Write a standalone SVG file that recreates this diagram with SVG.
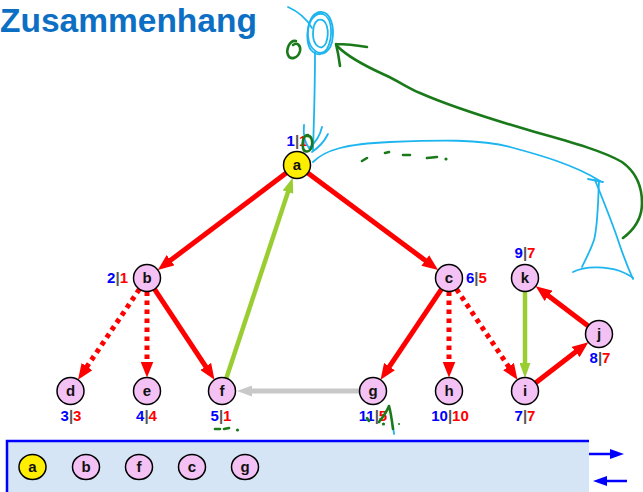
<svg xmlns="http://www.w3.org/2000/svg" width="643" height="492" viewBox="0 0 643 492">
<style>
.node circle, .node ellipse {fill:#f3c1f3; stroke:#000; stroke-width:1.5}
.root circle, .root ellipse {fill:#ffee00}
.nl {font-family:"Liberation Sans", Arial, sans-serif; font-weight:bold; font-size:15px; text-anchor:middle; fill:#111}
.lab {font-family:"Liberation Sans", Arial, sans-serif; font-weight:bold; font-size:15px}
.mid {text-anchor:middle}
.end {text-anchor:end}
.bl {fill:#0000ff}
.rd {fill:#ff0000}
.sp {fill:#555555}
.red {stroke:#ff0000; stroke-width:5; fill:none; marker-end:url(#ar)}
.dot {stroke-dasharray:4.5 4.5}
.grn {stroke:#9acd32; stroke-width:4.5; fill:none; marker-end:url(#ag)}
.gry {stroke:#c8c8c8; stroke-width:5; fill:none; marker-end:url(#agy)}
.blu {stroke:#0000ff; stroke-width:2.5; fill:none}
.cy {stroke:#1cb5f0; stroke-width:1.8; fill:none; stroke-linecap:round; stroke-linejoin:round}
.gr {stroke:#1a7a1a; stroke-width:2.6; fill:none; stroke-linecap:round; stroke-linejoin:round}
</style>
<defs>
<marker id="ar" markerUnits="userSpaceOnUse" markerWidth="16" markerHeight="13" refX="8" refY="6.5" orient="auto"><path d="M0,0 L16,6.5 L0,13 z" fill="#ff0000"/></marker>
<marker id="ag" markerUnits="userSpaceOnUse" markerWidth="15" markerHeight="11" refX="7" refY="5.5" orient="auto"><path d="M0,0 L15,5.5 L0,11 z" fill="#9acd32"/></marker>
<marker id="agy" markerUnits="userSpaceOnUse" markerWidth="15" markerHeight="11" refX="7" refY="5.5" orient="auto"><path d="M0,0 L15,5.5 L0,11 z" fill="#c8c8c8"/></marker>
<marker id="ab" markerUnits="userSpaceOnUse" markerWidth="14" markerHeight="10" refX="2" refY="5" orient="auto"><path d="M0,0 L14,5 L0,10 z" fill="#0000ff"/></marker>
</defs>

<text x="0" y="32" font-family="Liberation Sans, Arial, sans-serif" font-weight="bold" font-size="33.5" fill="#0d6fc4">Zusammenhang</text>

<g id="queue-box">
<rect x="7" y="441" width="582" height="60" fill="#d5e5f5"/>
<path class="blu" d="M7,502 V441 H589"/>
<path class="blu" d="M589,454 H612" marker-end="url(#ab)"/>
<path class="blu" d="M627,481 H605" marker-end="url(#ab)"/>
</g>

<g id="connectors">
<path class="red" d="M286.2,173.1 L164.2,265.1"/>
<path class="red" d="M307.8,173.1 L431.7,265.2"/>
<path class="red dot" d="M139.4,289.2 L82.5,373.2"/>
<path class="red dot" d="M147,291.5 L147,369.5"/>
<path class="red" d="M154.5,289.2 L210.1,373.1"/>
<path class="grn" d="M226.3,378.2 L290.2,185.4"/>
<path class="gry" d="M359.5,391 L245,391"/>
<path class="red" d="M441.5,289.2 L385,373.2"/>
<path class="red dot" d="M449,291.5 L449,369.5"/>
<path class="red dot" d="M456.5,289.2 L513,373.2"/>
<path class="grn" d="M525,291.5 L525,370"/>
<path class="red" d="M535.7,382.8 L582,347.1"/>
<path class="red" d="M588.2,325.9 L542.1,291"/>
</g>

<g id="node-a" class="node root"><circle cx="297" cy="165" r="13.5"/><text class="nl" x="297" y="170">a</text>
<text class="lab mid" x="297" y="146"><tspan class="bl">1</tspan><tspan class="sp">|</tspan><tspan class="rd">1</tspan></text></g>
<g id="node-b" class="node"><circle cx="147" cy="278" r="13.5"/><text class="nl" x="147" y="283">b</text>
<text class="lab end" x="128" y="283"><tspan class="bl">2</tspan><tspan class="sp">|</tspan><tspan class="rd">1</tspan></text></g>
<g id="node-c" class="node"><circle cx="449" cy="278" r="13.5"/><text class="nl" x="449" y="283">c</text>
<text class="lab" x="466" y="283"><tspan class="bl">6</tspan><tspan class="sp">|</tspan><tspan class="rd">5</tspan></text></g>
<g id="node-k" class="node"><circle cx="525" cy="278" r="13.5"/><text class="nl" x="525" y="283">k</text>
<text class="lab mid" x="525" y="258"><tspan class="bl">9</tspan><tspan class="sp">|</tspan><tspan class="rd">7</tspan></text></g>
<g id="node-j" class="node"><circle cx="599" cy="334" r="13.5"/><text class="nl" x="599" y="339">j</text>
<text class="lab mid" x="600" y="363"><tspan class="bl">8</tspan><tspan class="sp">|</tspan><tspan class="rd">7</tspan></text></g>
<g id="node-d" class="node"><circle cx="70.5" cy="391" r="13.5"/><text class="nl" x="70.5" y="396">d</text>
<text class="lab mid" x="71" y="421"><tspan class="bl">3</tspan><tspan class="sp">|</tspan><tspan class="rd">3</tspan></text></g>
<g id="node-e" class="node"><circle cx="147" cy="391" r="13.5"/><text class="nl" x="147" y="396">e</text>
<text class="lab mid" x="146.5" y="421"><tspan class="bl">4</tspan><tspan class="sp">|</tspan><tspan class="rd">4</tspan></text></g>
<g id="node-f" class="node"><circle cx="222" cy="391" r="13.5"/><text class="nl" x="222" y="396">f</text>
<text class="lab mid" x="221" y="421"><tspan class="bl">5</tspan><tspan class="sp">|</tspan><tspan class="rd">1</tspan></text></g>
<g id="node-g" class="node"><circle cx="373" cy="391" r="13.5"/><text class="nl" x="373" y="396">g</text>
<text class="lab mid" x="373" y="421"><tspan class="bl">11</tspan><tspan class="sp">|</tspan><tspan class="rd">5</tspan></text></g>
<g id="node-h" class="node"><circle cx="449" cy="391" r="13.5"/><text class="nl" x="449" y="396">h</text>
<text class="lab mid" x="450" y="421"><tspan class="bl">10</tspan><tspan class="sp">|</tspan><tspan class="rd">10</tspan></text></g>
<g id="node-i" class="node"><circle cx="525" cy="391" r="13.5"/><text class="nl" x="525" y="396">i</text>
<text class="lab mid" x="525" y="421"><tspan class="bl">7</tspan><tspan class="sp">|</tspan><tspan class="rd">7</tspan></text></g>

<g id="q-a" class="node root"><ellipse cx="32.5" cy="467" rx="13.5" ry="12.5"/><text class="nl" x="32.5" y="472" font-size="14">a</text></g>
<g id="q-b" class="node"><ellipse cx="86" cy="467" rx="13.5" ry="12.5"/><text class="nl" x="86" y="472">b</text></g>
<g id="q-f" class="node"><ellipse cx="139" cy="467" rx="13.5" ry="12.5"/><text class="nl" x="139" y="472">f</text></g>
<g id="q-c" class="node"><ellipse cx="192" cy="467" rx="13.5" ry="12.5"/><text class="nl" x="192" y="472">c</text></g>
<g id="q-g" class="node"><ellipse cx="245" cy="467" rx="13.5" ry="12.5"/><text class="nl" x="245" y="472">g</text></g>

<g id="ink-cyan">
<path class="cy" d="M288,7 C297,11 305,16 312,28"/>
<path class="cy" d="M320,12 C331,11 335,28 332,42 C329,54 318,58 311,50 C304,41 307,14 320,12 Z"/>
<path class="cy" d="M323,14 C333,18 333,38 327,49 C321,58 309,50 308,36 C307,24 313,12 323,14"/>
<path class="cy" d="M318,20 C327,17 330,32 326,43 C322,52 313,46 313,34 C313,26 315,22 318,20"/>
<path class="cy" d="M315,52 C315,80 314,120 313,150"/>
<path class="cy" d="M304,125 C303,135 305,143 309,148"/>
<path class="cy" d="M322,127 C320,136 315,143 309,148"/>
<path class="cy" d="M328,134 C324,142 318,148 312,152"/>
<path class="cy" d="M313,162 C325,150 345,144 390,142 C440,140 480,139 510,147 C540,155 575,165 600,181"/>
<path class="cy" d="M588,179 L603,182"/>
<path class="cy" d="M599,181 C598,200 598,225 594,240 C590,252 585,260 582,267"/>
<path class="cy" d="M573,272 C585,266 605,266 620,271 C627,274 631,276 633,278"/>
<path class="cy" d="M595,180 C603,200 612,222 618,240 C624,258 628,268 633,279"/>
<path class="cy" d="M393,426 L394,434"/>
</g>

<g id="ink-green">
<path class="gr" d="M296,41 C289,40 286,50 288,55 C290,60 298,59 300,51 C301,45 297,42 293,45"/>
<path class="gr" d="M367,47 C355,45 345,44 336,44 M336,44 C338,52 339,58 340,66"/>
<path class="gr" d="M337,46 C348,57 365,66 385,75 C400,82 408,88 420,93 C445,104 480,116 535,132 C575,143 605,152 622,162 C636,172 642,185 642,203 C642,218 635,229 623,238"/>
<path class="gr" d="M308,135 C303,135 302,143 303,148 C304,153 310,153 312,146 C313,140 311,135 307,136"/>
<path class="gr" d="M362,161 L367,158 M385,153 L389,152 M403,155 L410,155 M427,158 L437,157 M215,429 L220,429 M224,429 L229,428 M367,418 L369,421"/>
<circle cx="446" cy="159" r="1.6" fill="#1a7a1a"/>
<circle cx="237.5" cy="430" r="1.6" fill="#1a7a1a"/>
<path class="gr" d="M379,422 C383,417 387,411 389,406 C391,413 392,421 393,429"/>
<circle cx="383.5" cy="424" r="1.6" fill="#1a7a1a"/>
<circle cx="399" cy="424" r="1" fill="#1a7a1a"/>
</g>
</svg>
